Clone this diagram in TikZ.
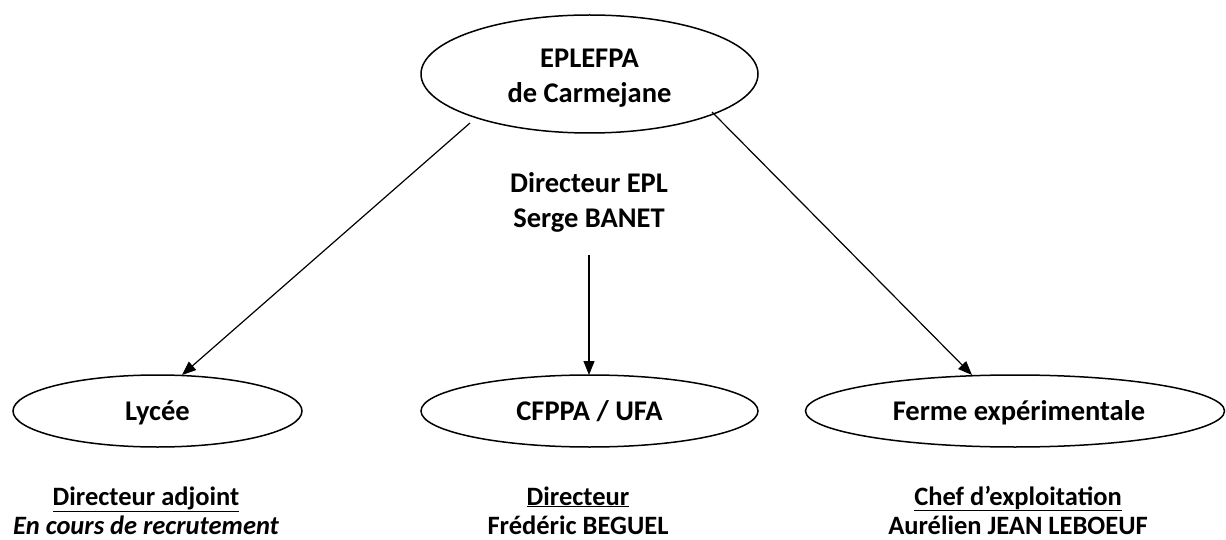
\documentclass[tikz,border=0pt]{standalone}
\usepackage{fontspec}
\setmainfont{Carlito}
\usetikzlibrary{shapes.geometric,arrows.meta}
\tikzset{
  oval/.style={draw, ellipse, line width=1.5pt, inner sep=0pt},
  lbl/.style={font=\fontsize{28.5}{32}\selectfont\bfseries, anchor=base, inner sep=0pt},
  sublbl/.style={font=\fontsize{26.5}{30}\selectfont\bfseries, anchor=base, inner sep=0pt},
  arr/.style={line width=1.2pt, -{Triangle[length=14pt,width=11pt]}}
}
\begin{document}
\begin{tikzpicture}[x=1pt,y=-1pt]
\useasboundingbox (0,0) rectangle (1226,540);
% ellipses
\node[oval, minimum width=337pt, minimum height=118pt] (top) at (589.5,74) {};
\node[oval, minimum width=289pt, minimum height=72pt] (lycee) at (157.5,411) {};
\node[oval, minimum width=337pt, minimum height=72pt] (cfppa) at (589.5,411) {};
\node[oval, minimum width=419pt, minimum height=72pt] (ferme) at (1015,411) {};
% labels in ellipses
\node[lbl] (t1) at (589.5,68) {EPLEFPA};
\node[lbl] (t2) at (589.5,103) {de Carmejane};
\node[lbl] (l1) at (157.5,420) {Lycée};
\node[lbl] (c1) at (589.5,420) {CFPPA / UFA};
\node[lbl] (f1) at (1019,420) {Ferme expérimentale};
% director
\node[lbl] (d1) at (589,193) {Directeur EPL};
\node[lbl] (d2) at (589,228) {Serge BANET};
% bottom texts
\node[sublbl] (b1) at (146,505) {\underline{Directeur adjoint}};
\node[sublbl] (b2) at (146,534) {\itshape En cours de recrutement};
\node[sublbl] (b3) at (578,505) {\underline{Directeur}};
\node[sublbl] (b4) at (578,534) {Frédéric BEGUEL};
\node[sublbl] (b5) at (1018,505) {\underline{Chef d’exploitation}};
\node[sublbl] (b6) at (1018,534) {Aurélien JEAN LEBOEUF};
% connectors
\coordinate (sL) at (470,123);
\coordinate (sR) at (712,112);
\coordinate (sM) at (589,255);
\coordinate (eL) at (182,375);
\coordinate (eR) at (972,375);
\coordinate (eM) at (589,375);
\draw[arr] (sL) -- (eL);
\draw[arr] (sR) -- (eR);
\draw[arr] (sM) -- (eM);
\end{tikzpicture}
\end{document}
